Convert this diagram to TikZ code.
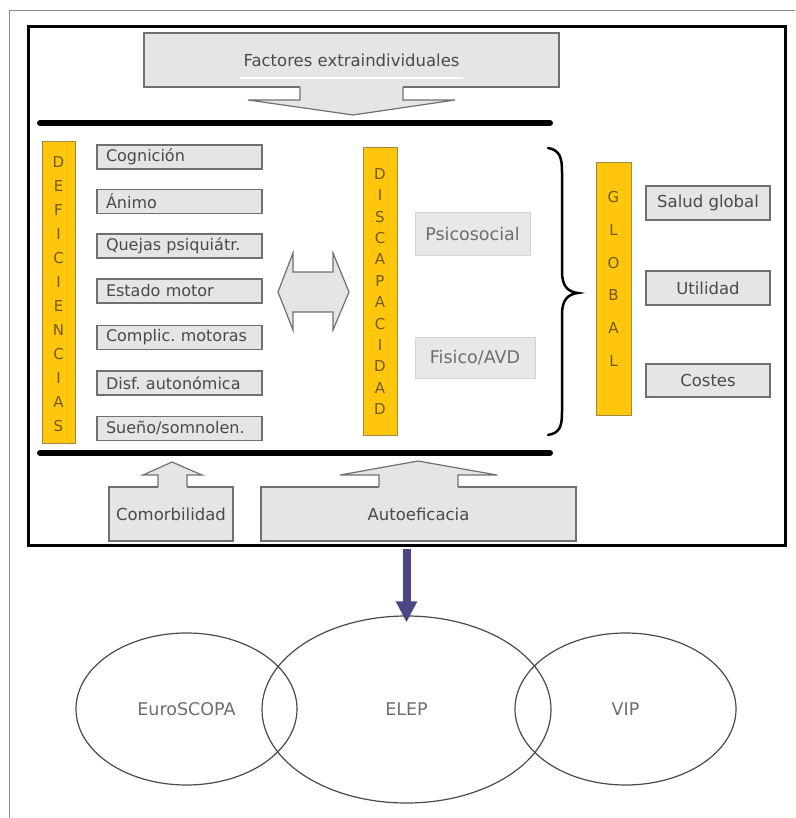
\documentclass[tikz,border=0pt]{standalone}
\usepackage{fontspec}
\setmainfont{DejaVu Sans}
\usetikzlibrary{shapes.geometric,arrows.meta}
\definecolor{boxfill}{HTML}{E6E4E6}
\definecolor{boxline}{HTML}{707070}
\definecolor{lightfill}{HTML}{E8E8E8}
\definecolor{lightline}{HTML}{D4D4D4}
\definecolor{txt}{HTML}{4A4A4A}
\definecolor{barfill}{HTML}{FFC60B}
\definecolor{barline}{HTML}{A08A40}
\definecolor{bartxt}{HTML}{6E5A1E}
\definecolor{arrowblue}{HTML}{4A4785}
\definecolor{pagegray}{HTML}{8A8A8A}
\tikzset{
  gbox/.style={draw=boxline, fill=boxfill, line width=1.2pt, inner sep=0pt, text=txt,
    font=\fontsize{16.5}{19}\selectfont},
  itembox/.style={gbox, font=\fontsize{16}{19}\selectfont, minimum height=24pt, text width=147pt, inner xsep=9pt, align=left},
  lbox/.style={draw=lightline, fill=lightfill, line width=1pt, inner sep=0pt, text=txt!80,
    font=\fontsize{17.5}{20}\selectfont},
  ybar/.style={draw=barline, fill=barfill, line width=1pt, inner sep=0pt},
  bartext/.style={text=bartxt, align=center, inner sep=0pt},
  blockarrow/.style={draw=boxline, fill=boxfill, line width=1.2pt, line join=miter},
  ring/.style={ellipse, draw=txt, line width=1.2pt, inner sep=0pt, text=txt!80,
    font=\fontsize{17.5}{20}\selectfont},
  rule/.style={line width=6pt, line cap=round, black},
}
\begin{document}
\frenchspacing
\begin{tikzpicture}[x=1pt, y=-1pt]
\useasboundingbox (0,0) rectangle (795,818);
% page edges
\draw[pagegray, line width=1pt] (9,818) -- (9,11) -- (795,11);
% main frame
\node[draw=black, line width=3pt, minimum width=757pt, minimum height=518pt, inner sep=0pt]
  (frame) at (406.5,286) {};
% top box and arrow
\node[gbox, minimum width=415pt, minimum height=54pt] (fact) at (351.5,60) {Factores extraindividuales};
\draw[white, line width=2pt] (240,78) -- (463,78);
\fill[boxfill] (300,86) -- (300,100) -- (248,100) -- (353,115) -- (455,100) -- (403,100) -- (403,86) -- cycle;
\draw[boxline, line width=1.2pt, line join=miter] (300,87) -- (300,100) -- (248,100) -- (353,115) -- (455,100) -- (403,100) -- (403,87);
% rules
\draw[rule] (40,123) -- (550,123);
\draw[rule] (40,453) -- (550,453);
% DEFICIENCIAS
\node[ybar, minimum width=33pt, minimum height=301pt] (defbar) at (58.5,292.5) {};
\node[bartext, font=\fontsize{15}{24}\selectfont] (deftxt) at (58.5,294)
  {D\\E\\F\\I\\C\\I\\E\\N\\C\\I\\A\\S};
% items
\node[itembox] (cog) at (179.5,157) {Cognición};
\node[itembox] (ani) at (179.5,201.5) {Ánimo};
\node[itembox] (que) at (179.5,246) {Quejas psiquiátr.};
\node[itembox] (est) at (179.5,291) {Estado motor};
\node[itembox] (com) at (179.5,337.5) {Complic. motoras};
\node[itembox] (dis) at (179.5,383) {Disf. autonómica};
\node[itembox] (sue) at (179.5,428.5) {Sueño/somnolen.};
% double arrow
\draw[blockarrow] (278,292) -- (293,253) -- (293,272) -- (333,272) -- (333,253) -- (349,292)
  -- (333,330) -- (333,312) -- (293,312) -- (293,330) -- cycle;
% DISCAPACIDAD
\node[ybar, minimum width=34pt, minimum height=287pt] (disbar) at (380,291.5) {};
\node[bartext, font=\fontsize{15}{21.4}\selectfont] (distxt) at (380,291.5)
  {D\\I\\S\\C\\A\\P\\A\\C\\I\\D\\A\\D};
\node[lbox, minimum width=115pt, minimum height=42pt] (psi) at (472.5,234) {Psicosocial};
\node[lbox, minimum width=120pt, minimum height=41pt] (fis) at (475,357.5) {Fisico/AVD};
% brace
\draw[black, line width=2.5pt, line cap=round]
  (548,148) .. controls (560,150) and (562,158) .. (562,172) -- (562,272)
  .. controls (562,286) and (568,292) .. (578,293)
  .. controls (568,294) and (562,300) .. (562,314) -- (562,412)
  .. controls (562,426) and (560,433) .. (548,435);
% GLOBAL
\node[ybar, minimum width=35pt, minimum height=252pt] (globar) at (613.5,289) {};
\node[bartext, font=\fontsize{15}{32.8}\selectfont] (glotxt) at (613.5,279)
  {G\\L\\O\\B\\A\\L};
\node[gbox, minimum width=124pt, minimum height=34pt] (sal) at (708,203) {Salud global};
\node[gbox, minimum width=124pt, minimum height=34pt] (uti) at (708,288) {Utilidad};
\node[gbox, minimum width=124pt, minimum height=33pt] (cos) at (708,380.5) {Costes};
% bottom boxes and arrows
\node[gbox, minimum width=124pt, minimum height=54pt] (comor) at (171,514) {Comorbilidad};
\node[gbox, minimum width=315pt, minimum height=54pt] (auto) at (418.5,514) {Autoeficacia};
\fill[boxfill] (158,488) -- (158,475) -- (143,475) -- (172,462) -- (202,475) -- (187,475) -- (187,488) -- cycle;
\draw[boxline, line width=1.2pt, line join=miter] (158,487) -- (158,475) -- (143,475) -- (172,462) -- (202,475) -- (187,475) -- (187,487);
\fill[boxfill] (379,488) -- (379,475) -- (340,475) -- (418,461) -- (497,475) -- (458,475) -- (458,488) -- cycle;
\draw[boxline, line width=1.2pt, line join=miter] (379,487) -- (379,475) -- (340,475) -- (418,461) -- (497,475) -- (458,475) -- (458,487);
% ellipses
\node[ring, minimum width=221pt, minimum height=152pt] (euro) at (186.5,709) {EuroSCOPA};
\node[ring, minimum width=289pt, minimum height=187pt] (elep) at (406.5,709.5) {ELEP};
\node[ring, minimum width=221pt, minimum height=152pt] (vip) at (625.5,709) {VIP};
% blue arrow
\draw[arrowblue, line width=8pt, -{Triangle[width=20pt,length=21pt]}]
  ([yshift=-2pt]frame.south) -- ([yshift=-7pt]elep.north);
\end{tikzpicture}
\end{document}
